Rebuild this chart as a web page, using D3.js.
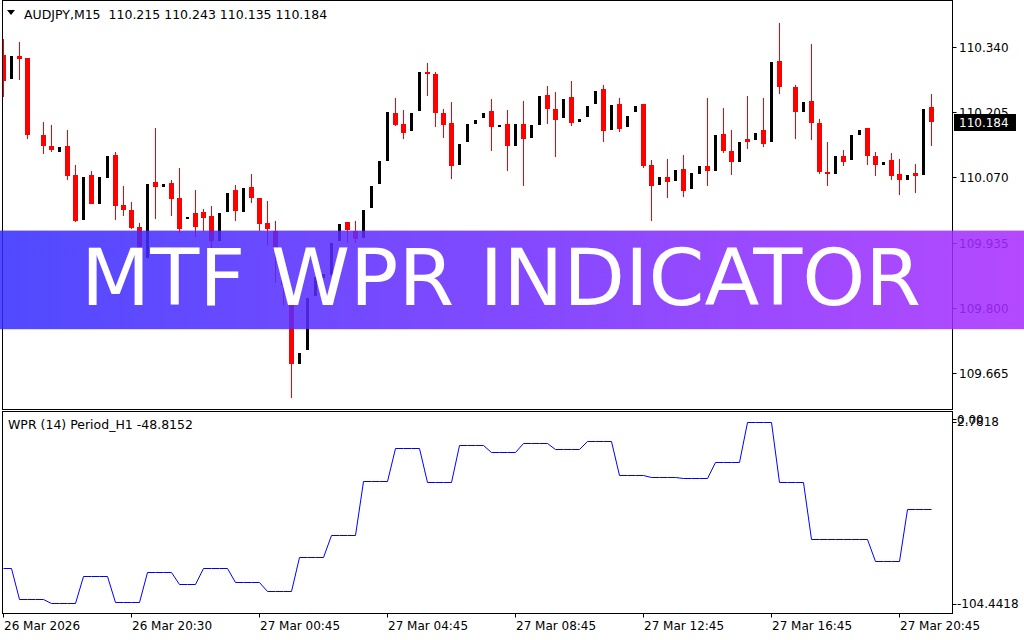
<!DOCTYPE html>
<html><head><meta charset="utf-8">
<script src="https://cdn.jsdelivr.net/npm/d3@7"></script>
<style>
body{margin:0;background:#fff;}
svg{display:block;}
text{font-family:"DejaVu Sans",sans-serif;white-space:pre;}
</style>
</head><body>
<svg id="c" width="1024" height="640"></svg>
<script>
// ---------------- DATA ----------------
const chartTitle = "AUDJPY,M15  110.215 110.243 110.135 110.184";
const indicatorTitle = "WPR (14) Period_H1 -48.8152";
const bannerText = "MTF WPR INDICATOR";

const open  = [110.323,110.274,110.321,110.317,null,110.157,110.135,110.123,110.135,110.075,
109.982,110.075,110.015,110.069,110.116,110.013,110.002,109.967,109.904,110.060,
110.049,110.058,110.027,109.984,109.996,109.998,109.990,109.939,109.999,110.044,
109.998,110.050,110.027,109.976,109.959,109.868,109.810,109.685,109.712,109.825,
109.862,109.868,109.939,109.978,109.959,109.945,110.007,110.056,110.104,110.203,
110.180,110.166,110.208,110.288,110.284,110.203,110.182,110.096,110.142,110.180,
110.193,110.207,110.174,110.180,110.135,110.180,110.152,110.179,110.240,110.211,
110.193,110.236,110.185,110.195,110.222,110.253,110.168,110.222,110.175,110.204,
110.222,110.095,110.055,110.071,110.063,110.087,110.046,110.077,110.093,110.084,
110.160,110.124,110.102,110.149,110.148,110.168,110.142,110.310,null,110.257,
110.206,110.228,110.182,110.080,110.077,110.114,110.106,110.158,110.172,110.114,
110.096,110.106,110.077,110.065,110.079,110.075,110.215];
const high  = [110.355,110.321,110.350,110.317,null,110.184,110.178,110.133,110.168,110.095,
110.071,110.083,110.071,110.114,110.122,110.052,110.019,109.976,110.056,110.172,
110.056,110.064,110.089,109.988,110.044,110.004,110.011,109.996,110.038,110.054,
110.048,110.077,110.027,110.021,109.980,109.887,109.827,109.707,109.821,109.864,
109.870,109.934,109.973,109.978,109.980,110.002,110.052,110.104,110.205,110.234,
110.209,110.203,110.288,110.306,110.288,110.211,110.226,110.139,110.180,110.188,
110.203,110.232,110.178,110.209,110.180,110.228,110.178,110.238,110.259,110.246,
110.232,110.269,110.191,110.217,110.248,110.261,110.219,110.234,110.197,110.217,
110.222,110.106,110.071,110.108,110.085,110.116,110.079,110.093,110.234,110.157,
110.213,110.168,110.143,110.238,110.162,110.234,110.308,110.389,null,110.261,
110.226,110.346,110.191,110.143,110.114,110.126,110.157,110.168,110.172,110.122,
110.102,110.120,110.108,110.075,110.098,110.211,110.243];
const low   = [110.237,110.274,110.271,110.150,null,110.119,110.122,110.123,110.065,109.978,
109.982,110.015,110.015,110.069,109.982,109.989,109.964,109.920,109.904,109.984,
110.049,109.991,109.955,109.984,109.947,109.960,109.920,109.939,109.999,109.980,
109.998,110.017,109.959,109.928,109.852,109.804,109.614,109.685,109.712,109.825,
109.862,109.868,109.939,109.935,109.935,109.945,110.007,110.056,110.104,110.176,
110.150,110.166,110.208,110.239,110.173,110.152,110.067,110.096,110.142,110.180,
110.193,110.124,110.174,110.084,110.135,110.051,110.152,110.179,110.180,110.113,
110.193,110.177,110.185,110.195,110.222,110.142,110.168,110.164,110.175,110.204,
110.090,109.980,110.055,110.028,110.063,110.030,110.046,110.077,110.051,110.084,
110.121,110.075,110.102,110.129,110.148,110.133,110.142,110.243,null,110.150,
110.206,110.148,110.077,110.051,110.077,110.094,110.106,110.158,110.096,110.073,
110.096,110.065,110.034,110.065,110.038,110.075,110.135];
const close = [110.270,110.321,110.315,110.158,null,110.135,110.127,110.133,110.073,109.980,
110.071,110.015,110.071,110.114,110.011,110.003,109.966,109.920,110.056,110.049,
110.056,110.026,109.964,109.988,109.968,109.986,109.939,109.996,110.038,110.001,
110.048,110.028,109.973,109.963,109.920,109.847,109.685,109.707,109.821,109.864,
109.870,109.934,109.973,109.961,109.942,110.002,110.052,110.104,110.205,110.178,
110.162,110.203,110.288,110.284,110.202,110.178,110.094,110.139,110.180,110.188,
110.203,110.175,110.178,110.135,110.180,110.150,110.178,110.238,110.212,110.189,
110.232,110.183,110.191,110.217,110.248,110.166,110.219,110.170,110.197,110.217,
110.094,110.051,110.071,110.061,110.085,110.042,110.079,110.093,110.084,110.157,
110.125,110.102,110.143,110.144,110.162,110.139,110.308,110.257,null,110.204,
110.226,110.183,110.080,110.077,110.114,110.102,110.157,110.168,110.115,110.096,
110.102,110.073,110.065,110.075,110.073,110.211,110.184];

const wpr = [-80.6,-80.6,
-97.0,-97.0,-97.0,-97.0, -99.3,-99.3,-99.3,-99.3, -84.9,-84.9,-84.9,-84.9,
-98.7,-98.7,-98.7,-98.7, -82.7,-82.7,-82.7,-82.7, -89.1,-89.1,-89.1,
-80.6,-80.6,-80.6,-80.6, -88.1,-88.1,-88.1,-88.1, -92.9,-92.9,-92.9,-92.9,
-74.7,-74.7,-74.7,-74.7, -63.0,-63.0,-63.0,-63.0, -34.2,-34.2,-34.2,-34.2,
-16.6,-16.6,-16.6,-16.6, -34.7,-34.7,-34.7,-34.7, -15.0,-15.0,-15.0,-15.0,
-18.7,-18.7,-18.7,-18.7, -13.9,-13.9,-13.9,-13.9, -17.0,-17.0,-17.0,-17.0,
-12.7,-12.7,-12.7,-12.7, -30.8,-30.8,-30.8,-30.8, -31.9,-31.9,-31.9,-31.9,
-32.4,-32.4,-32.4,-32.4, -24.0,-24.0,-24.0,-24.0, -2.7,-2.7,-2.7,-2.7,
-34.7,-34.7,-34.7,-34.7, -65.1,-65.1,-65.1,-65.1, -65.1,-65.1,-65.1,-65.1,
-76.7,-76.7,-76.7,-76.7, -48.8,-48.8,-48.8,-48.8];

const priceTicks = [110.340,110.205,110.070,109.935,109.800,109.665];
const lastPrice = 110.184;
const wprMin = -104.4418, wprMax = 2.7818, wprLevel = 0.00;
const timeTickIdx = [0,16,32,48,64,80,96,112];
const timeLabels = ["26 Mar 2026","26 Mar 20:30","27 Mar 00:45","27 Mar 04:45",
                    "27 Mar 08:45","27 Mar 12:45","27 Mar 16:45","27 Mar 20:45"];

// ---------------- LAYOUT ----------------
const svg = d3.select("#c");
const L = 2.5, R = 952.5;
const mainTop = 0.5, mainBot = 409.5;
const subTop = 411.5, subBot = 613.5;

const x = d3.scaleLinear().domain([0, 116]).range([3.5, 931.5]);
const y = d3.scaleLinear().domain([109.665, 110.340]).range([373.2, 46.7]);
const yw = d3.scaleLinear().domain([wprMin, wprMax]).range([613, 412]);

const defs = svg.append("defs");
defs.append("clipPath").attr("id","mainClip")
  .append("rect").attr("x",L).attr("y",mainTop).attr("width",R-L).attr("height",mainBot-mainTop);
defs.append("clipPath").attr("id","subClip")
  .append("rect").attr("x",L).attr("y",subTop).attr("width",R-L).attr("height",subBot-subTop);

// ---------------- CANDLES ----------------
const bars = d3.range(open.length).filter(i => open[i] !== null).map(i => ({
  i, o: open[i], h: high[i], l: low[i], c: close[i]
}));
const gc = svg.append("g").attr("clip-path","url(#mainClip)");
const snap = v => Math.round(v);
bars.forEach(b => {
  const bull = b.c > b.o;
  const col = bull ? "#000000" : "#ff0000";
  const cx = x(b.i);
  gc.append("rect")
    .attr("x", cx - 0.5).attr("width", 1)
    .attr("y", snap(y(b.h))).attr("height", Math.max(1, snap(y(b.l)) - snap(y(b.h))))
    .attr("fill", col);
  const w = bull ? 3 : 5;
  const top = snap(y(Math.max(b.o, b.c))), bot = snap(y(Math.min(b.o, b.c)));
  gc.append("rect")
    .attr("x", cx - w/2).attr("width", w)
    .attr("y", top).attr("height", Math.max(1, bot - top))
    .attr("fill", col);
});

// ---------------- WPR LINE ----------------
svg.append("path")
  .attr("clip-path","url(#subClip)")
  .datum(wpr)
  .attr("d", d3.line().x((d,i) => x(i)).y(d => Math.round(yw(d)) + 0.5))
  .attr("fill","none").attr("stroke","#0000ff").attr("stroke-width",1);

// ---------------- FRAMES ----------------
const frame = (t, b) => svg.append("rect").attr("x",L).attr("y",t).attr("width",R-L).attr("height",b-t)
  .attr("fill","none").attr("stroke","#000").attr("stroke-width",1);
frame(mainTop, mainBot);
frame(subTop, subBot);

// ---------------- PRICE AXIS ----------------
const ax = svg.append("g");
priceTicks.forEach(p => {
  const yy = Math.round(y(p)) + 0.5;
  ax.append("line").attr("x1",R).attr("x2",R+4).attr("y1",yy).attr("y2",yy).attr("stroke","#000");
  ax.append("text").attr("x",959).attr("y",yy).attr("dy","0.36em")
    .attr("font-size",12).attr("fill","#000").text(p.toFixed(3));
});
const ly = y(lastPrice);
ax.append("rect").attr("x",954).attr("y",Math.round(ly)-8).attr("width",62).attr("height",17).attr("fill","#000");
ax.append("text").attr("x",959).attr("y",ly).attr("dy","0.4em")
  .attr("font-size",12).attr("fill","#fff").text(lastPrice.toFixed(3));

// ---------------- WPR AXIS ----------------
[[wprLevel, 2, "0.00"], [wprMax, 10, String(wprMax)], [wprMin, -9, String(wprMin)]].forEach(([v, off, lab]) => {
  const yy = yw(v) + off;
  ax.append("line").attr("x1",R).attr("x2",R+4).attr("y1",Math.round(yy)+0.5).attr("y2",Math.round(yy)+0.5).attr("stroke","#000");
  ax.append("text").attr("x",957).attr("y",yy).attr("dy","0.36em")
    .attr("font-size",12).attr("fill","#000").text(lab);
});

// ---------------- TIME AXIS ----------------
timeTickIdx.forEach((idx, k) => {
  const xx = Math.floor(x(idx)) + 0.5;
  ax.append("line").attr("x1",xx).attr("x2",xx).attr("y1",subBot).attr("y2",subBot+4).attr("stroke","#000");
  ax.append("text").attr("x",xx + 0.5).attr("y",626).attr("dy","0.36em")
    .attr("font-size",12).attr("fill","#000").text(timeLabels[k]);
});

// ---------------- TITLES ----------------
svg.append("path").attr("d","M7,10 L15,10 L11,15 Z").attr("fill","#000");
svg.append("text").attr("x",24).attr("y",14).attr("dy","0.36em")
  .attr("font-size",12.5).attr("fill","#000").text(chartTitle);
svg.append("text").attr("x",8).attr("y",424).attr("dy","0.36em")
  .attr("font-size",12.5).attr("fill","#000").text(indicatorTitle);

// ---------------- BANNER ----------------
const grad = defs.append("linearGradient").attr("id","bg")
  .attr("x1","0%").attr("x2","100%").attr("y1","0%").attr("y2","0%");
grad.append("stop").attr("offset","0%").attr("stop-color","rgb(52,44,255)");
grad.append("stop").attr("offset","100%").attr("stop-color","rgb(168,44,255)");
svg.append("rect").attr("x",0).attr("y",230.6).attr("width",1024).attr("height",98.6)
  .attr("fill","url(#bg)").attr("opacity",0.86);
svg.append("text").attr("x",81).attr("y",304.5)
  .attr("font-family","'Open Sans', sans-serif").attr("font-weight",500)
  .attr("font-size",78).attr("fill","#fff")
  .attr("textLength",840).attr("lengthAdjust","spacingAndGlyphs")
  .text(bannerText);
</script>
</body></html>
